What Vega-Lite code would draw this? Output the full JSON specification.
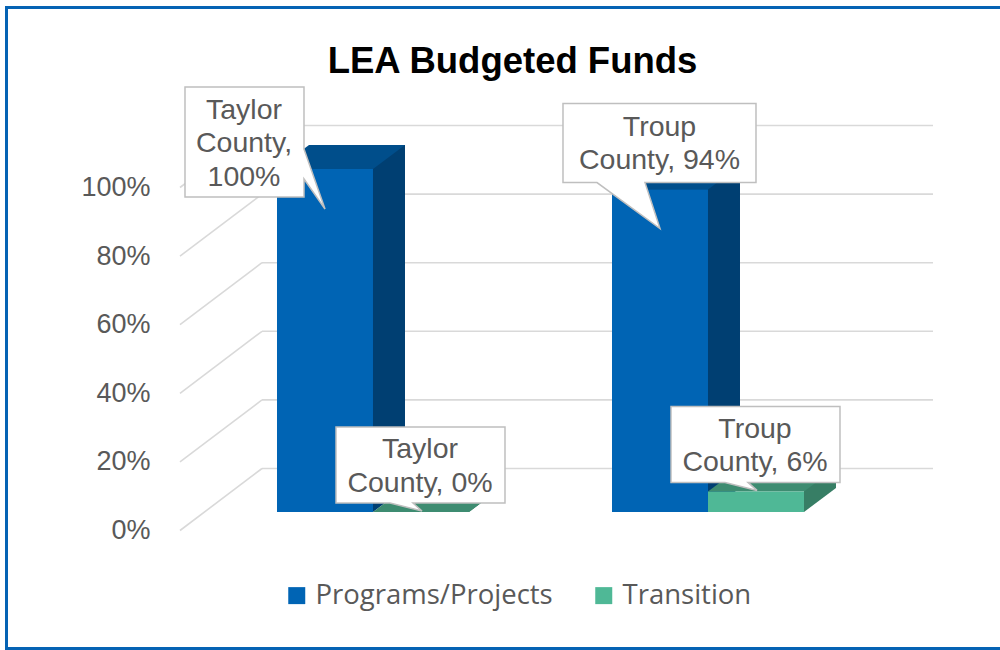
{
  "$schema": "https://vega.github.io/schema/vega-lite/v6.json",
  "width": 1003.5,
  "height": 641,
  "autosize": {"type": "none"},
  "padding": {"left": 6.5, "top": 7.5, "right": -10, "bottom": 1.5},
  "background": "white",
  "config": {"view": {"stroke": "#0563B4", "strokeWidth": 3}, "font": "Liberation Sans"},
  "title": {"text": "LEA Budgeted Funds", "font": "Liberation Sans", "fontSize": 36.5, "fontWeight": "bold", "color": "#000000", "anchor": "middle", "frame": "group", "offset": -101.5, "baseline": "alphabetic", "dx": 4.25},
  "datasets": {
    "bars": [
      {"county": "Taylor County", "series": "Programs/Projects", "value": 1.00, "label": "Taylor\nCounty,\n100%"},
      {"county": "Taylor County", "series": "Transition", "value": 0.00, "label": "Taylor\nCounty, 0%"},
      {"county": "Troup County", "series": "Programs/Projects", "value": 0.94, "label": "Troup\nCounty, 94%"},
      {"county": "Troup County", "series": "Transition", "value": 0.06, "label": "Troup\nCounty, 6%"}
    ],
    "grid": [{"v": 0}, {"v": 0.2}, {"v": 0.4}, {"v": 0.6}, {"v": 0.8}, {"v": 1.0}]
  },
  "layer": [
    {
      "data": {"name": "grid"},
      "layer": [
        {
          "mark": {"type": "rule", "color": "#D9D9D9", "strokeWidth": 1.6, "xOffset": 58, "x2Offset": 58, "yOffset": -43.5, "y2Offset": -43.5},
          "encoding": {
            "x": {"datum": 0, "type": "quantitative", "scale": {"domain": [0, 1], "range": [197.5, 868.5]}, "axis": null},
            "x2": {"datum": 1},
            "y": {"field": "v", "type": "quantitative", "scale": {"domain": [-0.39796, 1.470845], "nice": false, "zero": false},
              "axis": {"values": [0, 0.2, 0.4, 0.6, 0.8, 1.0], "format": ".0%", "title": null, "domain": false, "ticks": false, "tickSize": 0, "grid": false, "labelPadding": 0, "offset": -143.5, "labelOffset": 18.5, "labelFont": "Liberation Sans", "labelFontSize": 27, "labelColor": "#595959", "labelFlush": false, "labelOverlap": false, "labelBound": false}}
          }
        },
        {
          "mark": {"type": "rule", "color": "#D9D9D9", "strokeWidth": 1.6, "xOffset": -24, "x2Offset": 58, "yOffset": 18.5, "y2Offset": -43.5},
          "encoding": {
            "x": {"datum": 0, "type": "quantitative", "scale": {"domain": [0, 1], "range": [197.5, 868.5]}, "axis": null},
            "x2": {"datum": 0},
            "y": {"field": "v", "type": "quantitative", "scale": {"domain": [-0.39796, 1.470845], "nice": false, "zero": false},
              "axis": {"values": [0, 0.2, 0.4, 0.6, 0.8, 1.0], "format": ".0%", "title": null, "domain": false, "ticks": false, "tickSize": 0, "grid": false, "labelPadding": 0, "offset": -143.5, "labelOffset": 18.5, "labelFont": "Liberation Sans", "labelFontSize": 27, "labelColor": "#595959", "labelFlush": false, "labelOverlap": false, "labelBound": false}},
            "y2": {"field": "v"}
          }
        }
      ]
    },
    {
      "data": {"name": "bars"},
      "encoding": {
        "x": {"field": "county", "type": "nominal", "scale": {"type": "band", "domain": ["Taylor County", "Troup County"], "paddingInner": 0.426866, "paddingOuter": 0.711194, "align": 0.56768, "round": false}, "axis": null},
        "y": {"field": "value", "type": "quantitative", "scale": {"domain": [-0.39796, 1.470845], "nice": false, "zero": false},
          "axis": {"values": [0, 0.2, 0.4, 0.6, 0.8, 1.0], "format": ".0%", "title": null, "domain": false, "ticks": false, "tickSize": 0, "grid": false, "labelPadding": 0, "offset": -143.5, "labelOffset": 18.5, "labelFont": "Liberation Sans", "labelFontSize": 27, "labelColor": "#595959", "labelFlush": false, "labelOverlap": false, "labelBound": false}}
      },
      "layer": [
        {
          "transform": [{"filter": "datum.series === 'Programs/Projects'"}],
          "mark": {"type": "bar", "width": 96, "xOffset": -16, "yOffset": -24, "y2Offset": -24, "color": "#003F72"},
          "encoding": {"y2": {"datum": 0}}
        },
        {
          "transform": [{"filter": "datum.series === 'Transition'"}],
          "mark": {"type": "bar", "width": 96, "xOffset": 80, "yOffset": -24, "y2Offset": -24, "color": "#377E65"},
          "encoding": {"y2": {"datum": 0}}
        },
        {
          "mark": {"type": "point", "shape": "M48,0L48,-24L80,-24Z", "size": 4, "filled": true, "opacity": 1, "strokeWidth": 0},
          "encoding": {
            "xOffset": {"field": "series", "type": "nominal", "scale": {"domain": ["Programs/Projects", "Transition"], "paddingInner": 0, "paddingOuter": 0, "round": false}},
            "y": {"datum": 0, "type": "quantitative", "scale": {"domain": [-0.39796, 1.470845], "nice": false, "zero": false},
              "axis": {"values": [0, 0.2, 0.4, 0.6, 0.8, 1.0], "format": ".0%", "title": null, "domain": false, "ticks": false, "tickSize": 0, "grid": false, "labelPadding": 0, "offset": -143.5, "labelOffset": 18.5, "labelFont": "Liberation Sans", "labelFontSize": 27, "labelColor": "#595959", "labelFlush": false, "labelOverlap": false, "labelBound": false}},
            "color": {"condition": {"test": "datum.series === 'Transition'", "value": "#377E65"}, "value": "#003F72"}
          }
        },
        {
          "mark": {"type": "point", "shape": "M-48,0L48,0L80,-24L-16,-24Z", "size": 4, "filled": true, "opacity": 1, "strokeWidth": 0},
          "encoding": {
            "xOffset": {"field": "series", "type": "nominal", "scale": {"domain": ["Programs/Projects", "Transition"], "paddingInner": 0, "paddingOuter": 0, "round": false}},
            "color": {"condition": {"test": "datum.series === 'Transition'", "value": "#3E8C71"}, "value": "#004E8B"}
          }
        },
        {
          "mark": {"type": "bar"},
          "encoding": {
            "xOffset": {"field": "series", "type": "nominal", "scale": {"domain": ["Programs/Projects", "Transition"], "paddingInner": 0, "paddingOuter": 0, "round": false}},
            "color": {"field": "series", "type": "nominal", "scale": {"domain": ["Programs/Projects", "Transition"], "range": ["#0064B4", "#4FB896"]},
              "legend": {"orient": "none", "legendX": 276.5, "legendY": 574, "direction": "horizontal", "title": null, "symbolType": "square", "symbolSize": 289, "symbolStrokeWidth": 0, "labelFont": "Open Sans", "labelFontSize": 27.5, "labelColor": "#595959", "labelOffset": 5, "labelLimit": 500, "columnPadding": 37, "padding": 0}}
          }
        },
        {
          "transform": [{"filter": "datum.county === 'Taylor County' && datum.series === 'Programs/Projects'"}],
          "mark": {"type": "point", "shape": "M-140,-82L-21,-82L-21,-20L0,40L-21,10L-21,28L-140,28Z", "size": 4, "filled": true, "opacity": 1, "fill": "white", "stroke": "#BFBFBF", "strokeWidth": 1.5},
          "encoding": {"xOffset": {"field": "series", "type": "nominal", "scale": {"domain": ["Programs/Projects", "Transition"], "paddingInner": 0, "paddingOuter": 0, "round": false}}}
        },
        {
          "transform": [{"filter": "datum.county === 'Troup County' && datum.series === 'Programs/Projects'"}],
          "mark": {"type": "point", "shape": "M-97,-86L96,-86L96,-7L-15,-7L0,39L-63,-7L-97,-7Z", "size": 4, "filled": true, "opacity": 1, "fill": "white", "stroke": "#BFBFBF", "strokeWidth": 1.5},
          "encoding": {"xOffset": {"field": "series", "type": "nominal", "scale": {"domain": ["Programs/Projects", "Transition"], "paddingInner": 0, "paddingOuter": 0, "round": false}}}
        },
        {
          "transform": [{"filter": "datum.series === 'Transition'"}],
          "mark": {"type": "point", "shape": "M-85,-85L84,-85L84,-9L-8,-9L1,-1L-31,-9L-85,-9Z", "size": 4, "filled": true, "opacity": 1, "fill": "white", "stroke": "#BFBFBF", "strokeWidth": 1.5},
          "encoding": {"xOffset": {"field": "series", "type": "nominal", "scale": {"domain": ["Programs/Projects", "Transition"], "paddingInner": 0, "paddingOuter": 0, "round": false}}}
        },
        {
          "transform": [{"filter": "datum.county === 'Taylor County' && datum.series === 'Programs/Projects'"}],
          "mark": {"type": "text", "dx": -81, "dy": -50, "align": "center", "baseline": "alphabetic", "lineBreak": "\n", "lineHeight": 33.5, "font": "Liberation Sans", "fontSize": 28.5, "fill": "#595959"},
          "encoding": {
            "xOffset": {"field": "series", "type": "nominal", "scale": {"domain": ["Programs/Projects", "Transition"], "paddingInner": 0, "paddingOuter": 0, "round": false}},
            "text": {"field": "label"}
          }
        },
        {
          "transform": [{"filter": "datum.county === 'Troup County' && datum.series === 'Programs/Projects'"}],
          "mark": {"type": "text", "dx": -0.5, "dy": -54, "align": "center", "baseline": "alphabetic", "lineBreak": "\n", "lineHeight": 33.5, "font": "Liberation Sans", "fontSize": 28.5, "fill": "#595959"},
          "encoding": {
            "xOffset": {"field": "series", "type": "nominal", "scale": {"domain": ["Programs/Projects", "Transition"], "paddingInner": 0, "paddingOuter": 0, "round": false}},
            "text": {"field": "label"}
          }
        },
        {
          "transform": [{"filter": "datum.series === 'Transition'"}],
          "mark": {"type": "text", "dx": -1, "dy": -53.5, "align": "center", "baseline": "alphabetic", "lineBreak": "\n", "lineHeight": 33.5, "font": "Liberation Sans", "fontSize": 28.5, "fill": "#595959"},
          "encoding": {
            "xOffset": {"field": "series", "type": "nominal", "scale": {"domain": ["Programs/Projects", "Transition"], "paddingInner": 0, "paddingOuter": 0, "round": false}},
            "text": {"field": "label"}
          }
        }
      ]
    }
  ],
  "resolve": {"scale": {"x": "independent"}}
}
